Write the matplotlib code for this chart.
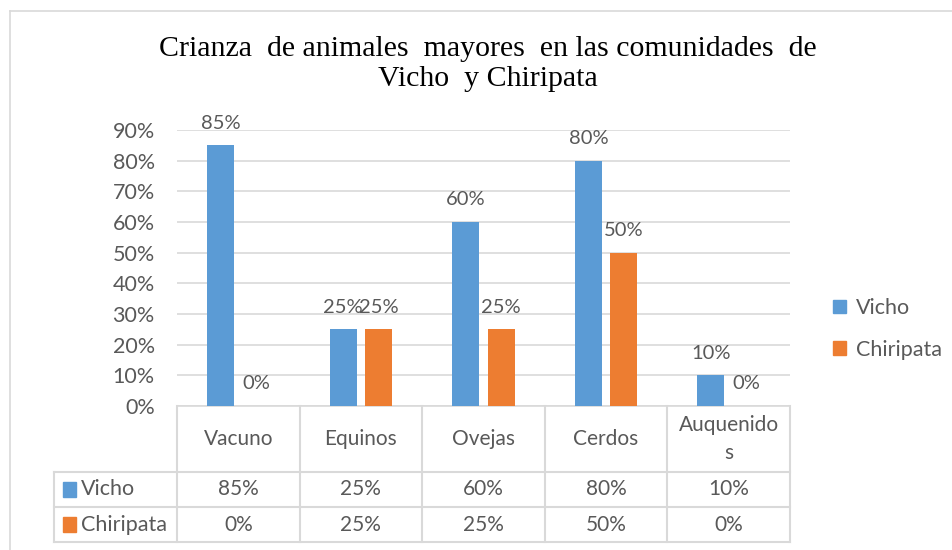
import matplotlib
matplotlib.use("Agg")
import matplotlib.pyplot as plt
from matplotlib.patches import Patch, Rectangle
from matplotlib.lines import Line2D

# Data
categories = ["Vacuno", "Equinos", "Ovejas", "Cerdos", "Auquenidos"]
table_headers = ["Vacuno", "Equinos", "Ovejas", "Cerdos", "Auquenido\ns"]
vicho = [0.85, 0.25, 0.60, 0.80, 0.10]
chiripata = [0.00, 0.25, 0.25, 0.50, 0.00]
series_names = ["Vicho", "Chiripata"]
title = "Crianza  de animales  mayores  en las comunidades  de\nVicho  y Chiripata"

blue = "#5B9BD5"
orange = "#ED7D31"
grid_col = "#D9D9D9"
txt_col = "#595959"
font = "Lato"

W, H = 953, 550
fig = plt.figure(figsize=(W / 100, H / 100), dpi=100)
ax = fig.add_axes([177 / W, 1 - 406 / H, (790 - 177) / W, 276 / H])

x = list(range(len(categories)))
bw = 0.22
off = 0.145
b1 = ax.bar([i - off for i in x], vicho, bw, color=blue, zorder=3)
b2 = ax.bar([i + off for i in x], chiripata, bw, color=orange, zorder=3)

for bars, vals in ((b1, vicho), (b2, chiripata)):
    for r, v in zip(bars, vals):
        ax.annotate(f"{v:.0%}", (r.get_x() + r.get_width() / 2, v),
                    xytext=(0, 16), textcoords="offset points",
                    ha="center", va="center", fontsize=14.5,
                    color=txt_col, family=font)

ax.set_xlim(-0.5, 4.5)
ax.set_ylim(0, 0.9)
ax.set_yticks([i / 10 for i in range(10)])
ax.set_yticklabels([f"{i * 10}%" for i in range(10)], fontsize=15.5,
                   color=txt_col, family=font)
ax.tick_params(axis="y", length=0, pad=16)
ax.set_xticks([])
ax.grid(axis="y", color=grid_col, lw=1.2, zorder=0)
for s in ["top", "right", "left"]:
    ax.spines[s].set_visible(False)
ax.spines["bottom"].set_color(grid_col)
ax.spines["bottom"].set_linewidth(1.2)

# data table under the axis
tr = ax.get_xaxis_transform()
rows_y = [0, -0.239, -0.366, -0.493]
lkw = dict(color=grid_col, lw=1.5, transform=tr, clip_on=False)
for xb in [i - 0.5 for i in range(len(categories) + 1)]:
    ax.add_line(Line2D([xb, xb], [rows_y[0], rows_y[3]], **lkw))
ax.add_line(Line2D([-1.5, -1.5], [rows_y[1], rows_y[3]], **lkw))
for yb in rows_y[1:]:
    ax.add_line(Line2D([-1.5, 4.5], [yb, yb], **lkw))

tkw = dict(transform=tr, ha="center", va="center", fontsize=15,
           color=txt_col, family=font, linespacing=1.45)
for i, h in enumerate(table_headers):
    ax.text(i, (rows_y[0] + rows_y[1]) / 2, h, **tkw)
for vals, y0, y1 in ((vicho, rows_y[1], rows_y[2]), (chiripata, rows_y[2], rows_y[3])):
    for i, v in enumerate(vals):
        ax.text(i, (y0 + y1) / 2, f"{v:.0%}", **tkw)

for name, col, y0, y1 in ((series_names[0], blue, rows_y[1], rows_y[2]),
                          (series_names[1], orange, rows_y[2], rows_y[3])):
    yc = (y0 + y1) / 2
    ax.add_patch(Rectangle((-1.43, yc - 0.026), 0.11, 0.052, color=col,
                           transform=tr, clip_on=False))
    ax.text(-1.28, yc, name, transform=tr, ha="left", va="center",
            fontsize=15.5, color=txt_col, family=font)

# legend
handles = [Patch(color=blue), Patch(color=orange)]
fig.legend(handles, series_names, loc="center left",
           bbox_to_anchor=(814 / W, 1 - 329 / H), frameon=False,
           prop={"family": font, "size": 15.5}, labelcolor=txt_col,
           handlelength=0.6, handleheight=0.6, handletextpad=0.45,
           labelspacing=1.0)

fig.text(488 / W, 1 - 64 / H, title, ha="center", va="center",
         fontsize=21.5, family="Liberation Serif", color="black",
         linespacing=1.15)

# chart frame
fig.add_artist(Line2D([10 / W, 1], [1 - 11 / H, 1 - 11 / H], color=grid_col, lw=1.2))
fig.add_artist(Line2D([10 / W, 10 / W], [0, 1 - 11 / H], color=grid_col, lw=1.2))

fig.savefig("out.png", dpi=100)
